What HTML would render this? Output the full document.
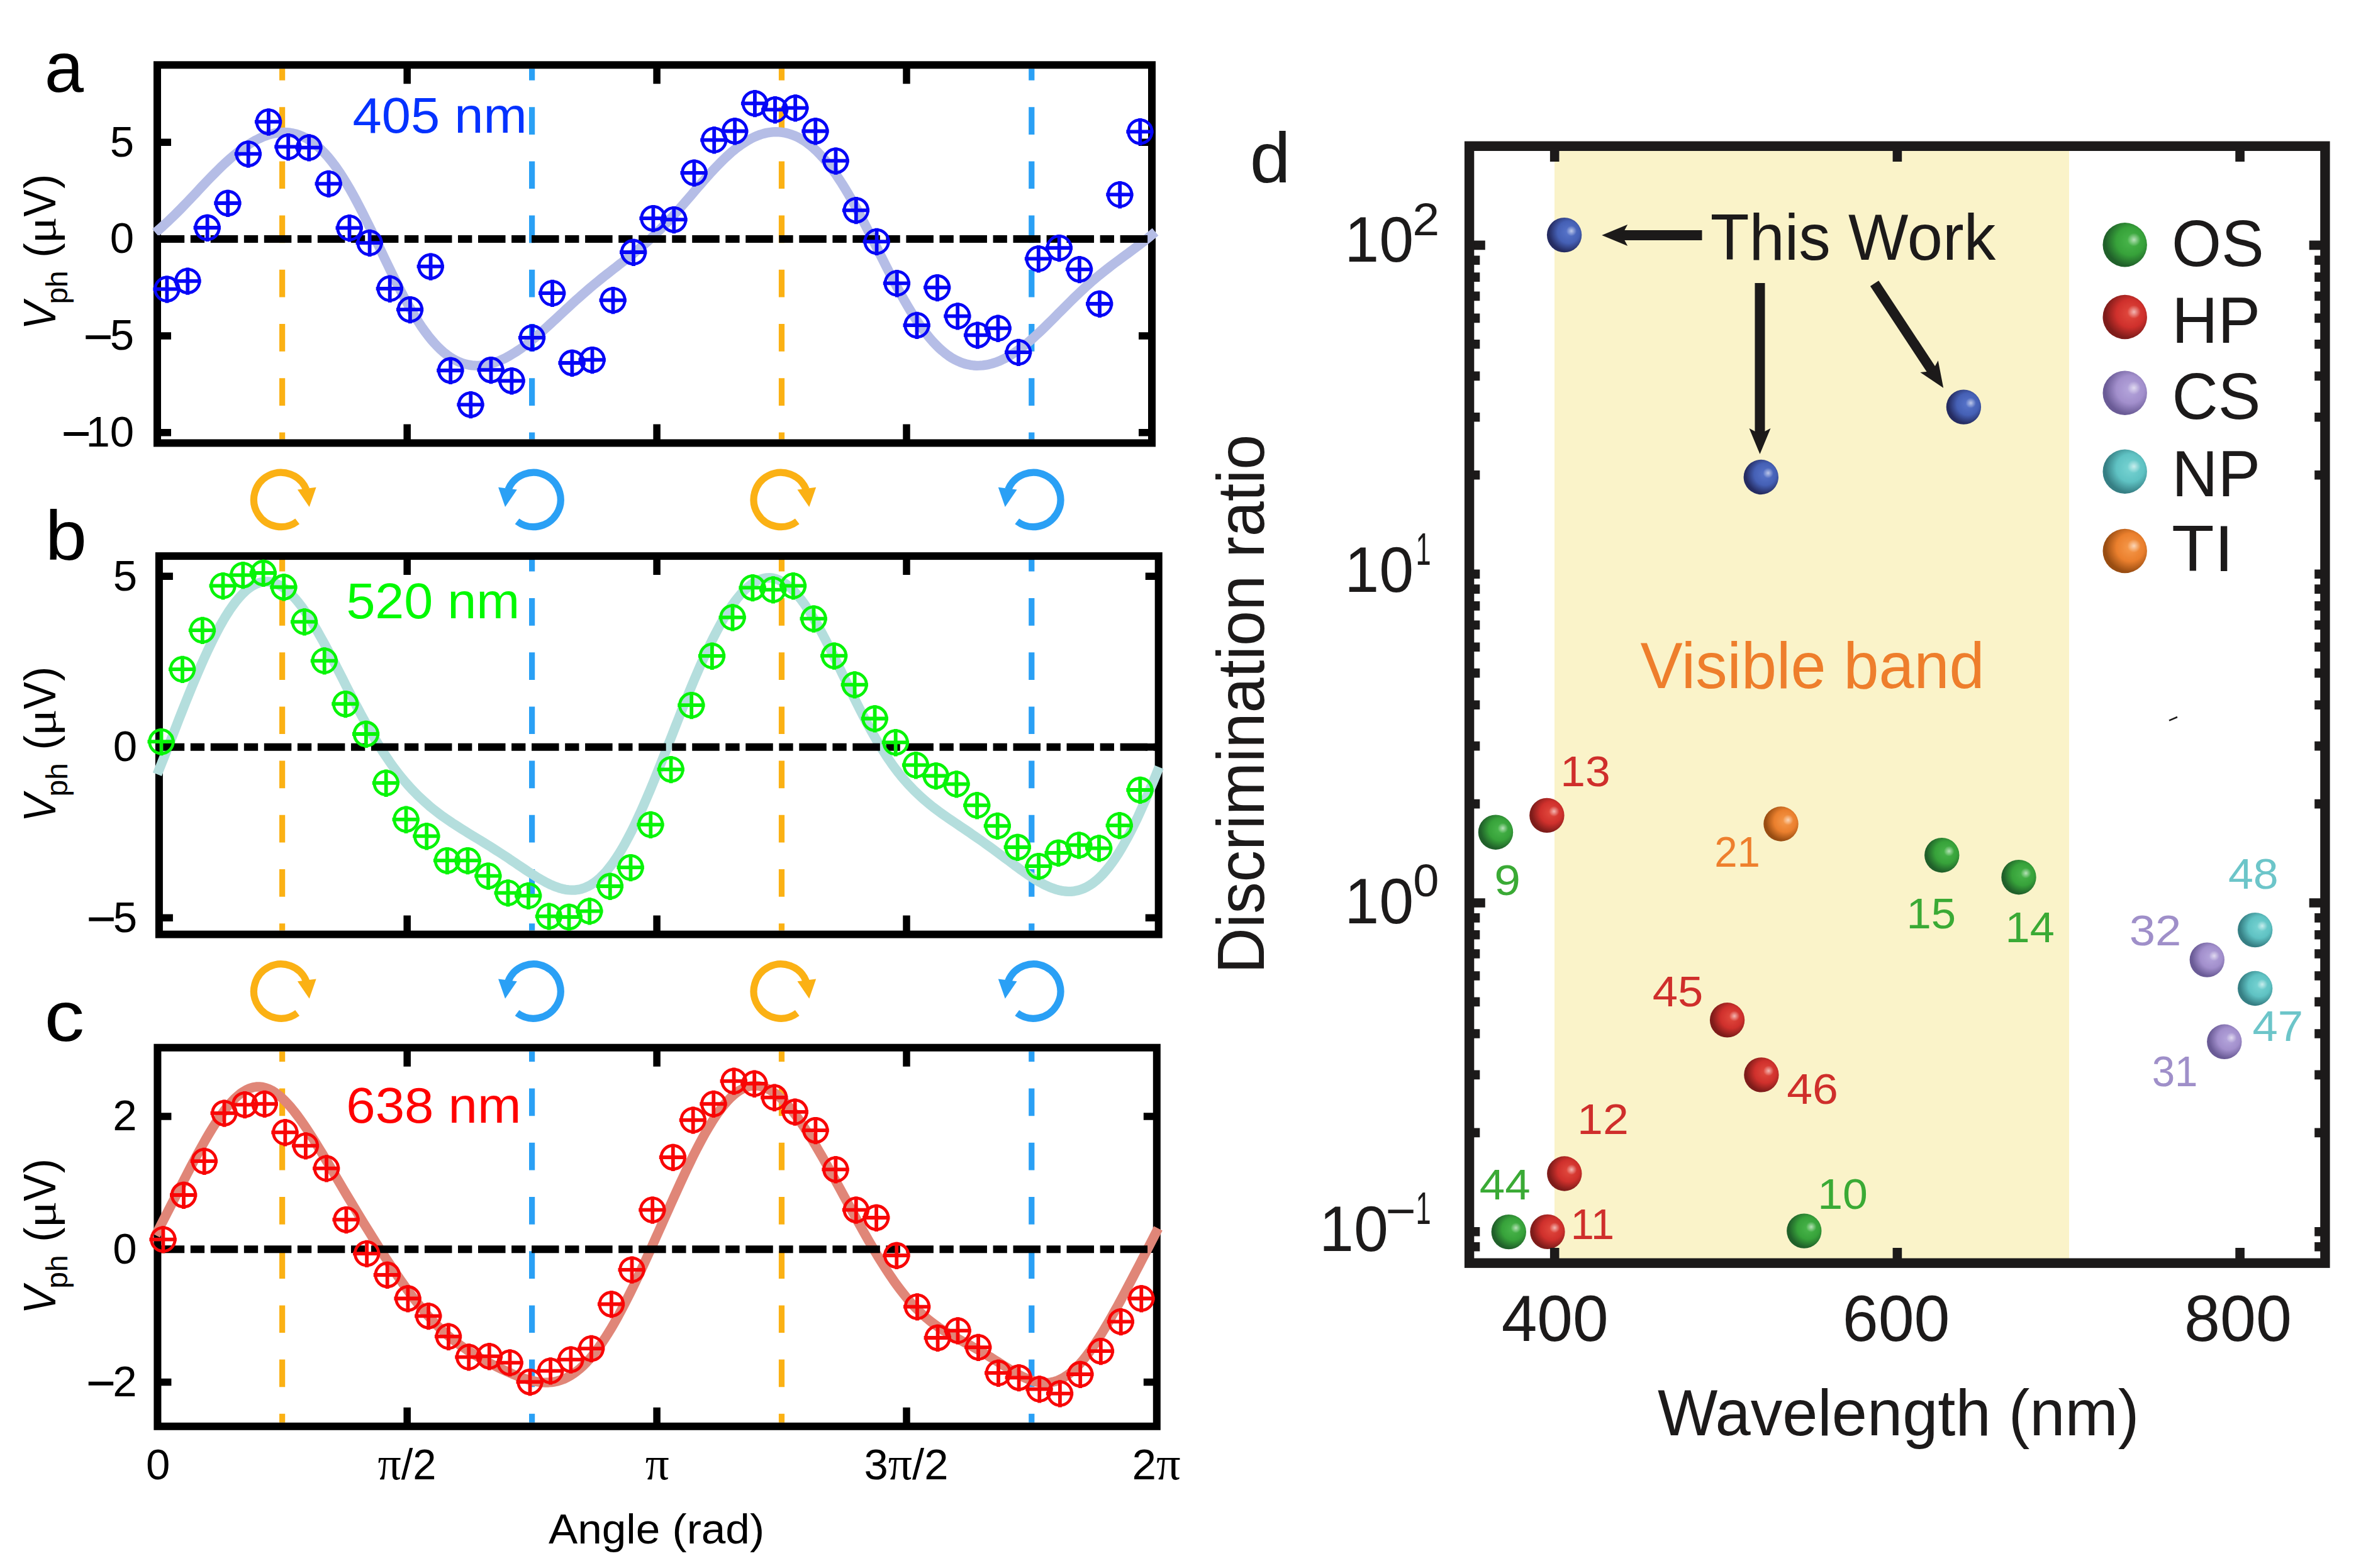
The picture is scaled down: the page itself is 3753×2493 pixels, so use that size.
<!DOCTYPE html>
<html><head><meta charset="utf-8"><title>Figure</title>
<style>html,body{margin:0;padding:0;background:#fff;}svg{display:block;}</style></head>
<body>
<svg width="3753" height="2493" viewBox="0 0 3753 2493" font-family='"Liberation Sans", sans-serif'>
<defs>
<g id="mk"><circle r="18.75" stroke-width="4.8"/><path d="M-22,0H21.3M0,-21.3V22" stroke-width="5.8"/></g>
<g id="rot"><path d="M26.00,34.50A43.2,43.2 0 1 1 40.05,-16.18" fill="none" stroke="currentColor" stroke-width="11.2"/><path d="M26.2,-15.8L55.9,-19.6L45,11.7Z" fill="currentColor"/></g>
<radialGradient id="gG" cx="0.62" cy="0.42" r="0.70"><stop offset="0" stop-color="#49b64b"/><stop offset="0.45" stop-color="#37a23a"/><stop offset="0.8" stop-color="#20602a" stop-opacity="1"/><stop offset="1" stop-color="#20602a"/></radialGradient>
<radialGradient id="gR" cx="0.62" cy="0.42" r="0.70"><stop offset="0" stop-color="#e24a3e"/><stop offset="0.45" stop-color="#cf302c"/><stop offset="0.8" stop-color="#7e1c1a" stop-opacity="1"/><stop offset="1" stop-color="#7e1c1a"/></radialGradient>
<radialGradient id="gP" cx="0.62" cy="0.42" r="0.70"><stop offset="0" stop-color="#b5a6dc"/><stop offset="0.45" stop-color="#a28fcc"/><stop offset="0.8" stop-color="#6a5b96" stop-opacity="1"/><stop offset="1" stop-color="#6a5b96"/></radialGradient>
<radialGradient id="gT" cx="0.62" cy="0.42" r="0.70"><stop offset="0" stop-color="#78d4d3"/><stop offset="0.45" stop-color="#5fc2c3"/><stop offset="0.8" stop-color="#367f84" stop-opacity="1"/><stop offset="1" stop-color="#367f84"/></radialGradient>
<radialGradient id="gO" cx="0.62" cy="0.42" r="0.70"><stop offset="0" stop-color="#f69a4c"/><stop offset="0.45" stop-color="#ea7f2d"/><stop offset="0.8" stop-color="#994d12" stop-opacity="1"/><stop offset="1" stop-color="#994d12"/></radialGradient>
<radialGradient id="gB" cx="0.62" cy="0.42" r="0.70"><stop offset="0" stop-color="#5875cb"/><stop offset="0.45" stop-color="#4560b5"/><stop offset="0.8" stop-color="#252c62" stop-opacity="1"/><stop offset="1" stop-color="#252c62"/></radialGradient>
<radialGradient id="gH"><stop offset="0" stop-color="#fff" stop-opacity="0.62"/><stop offset="0.4" stop-color="#fff" stop-opacity="0.36"/><stop offset="1" stop-color="#fff" stop-opacity="0"/></radialGradient>
</defs>
<rect width="3753" height="2493" fill="#fff"/>
<g id="panel-a">
<clipPath id="clipa"><rect x="256" y="109.3" width="1569" height="589.1"/></clipPath>
<g clip-path="url(#clipa)">
<line x1="448.6" y1="84" x2="448.6" y2="744.4" stroke="#fbb114" stroke-width="9.2" stroke-dasharray="43.7 42.5"/>
<line x1="845.6" y1="84" x2="845.6" y2="744.4" stroke="#2aa0f5" stroke-width="9.2" stroke-dasharray="43.7 42.5"/>
<line x1="1242.5" y1="84" x2="1242.5" y2="744.4" stroke="#fbb114" stroke-width="9.2" stroke-dasharray="43.7 42.5"/>
<line x1="1639.8" y1="84" x2="1639.8" y2="744.4" stroke="#2aa0f5" stroke-width="9.2" stroke-dasharray="43.7 42.5"/>
</g>
<rect x="250" y="103.3" width="1581" height="601.1" fill="none" stroke="#000" stroke-width="12"/>
<path d="M647.2,103.3v30M647.2,704.4v-30M1044.1,103.3v30M1044.1,704.4v-30M1441,103.3v30M1441,704.4v-30M250,226.3h22M1831,226.3h-21M250,380.1h22M1831,380.1h-21M250,533.9h22M1831,533.9h-21M250,687.7h22M1831,687.7h-21" stroke="#000" stroke-width="11.5" fill="none"/>
<path d="M247,369.9 L252,365.6 L257,361.2 L261.9,356.7 L266.9,352.1 L271.9,347.3 L276.9,342.5 L281.9,337.5 L286.9,332.5 L291.8,327.4 L296.8,322.2 L301.8,316.9 L306.8,311.7 L311.8,306.4 L316.8,301.1 L321.7,295.8 L326.7,290.5 L331.7,285.3 L336.7,280.2 L341.7,275.1 L346.7,270.1 L351.6,265.3 L356.6,260.5 L361.6,256 L366.6,251.5 L371.6,247.2 L376.6,243.2 L381.5,239.3 L386.5,235.6 L391.5,232.1 L396.5,228.8 L401.5,225.8 L406.4,223 L411.4,220.5 L416.4,218.2 L421.4,216.2 L426.4,214.5 L431.4,213.1 L436.3,212 L441.3,211.1 L446.3,210.6 L451.3,210.5 L456.3,210.6 L461.3,211.2 L466.2,212.1 L471.2,213.3 L476.2,215 L481.2,217.1 L486.2,219.5 L491.2,222.4 L496.1,225.8 L501.1,229.6 L506.1,233.8 L511.1,238.5 L516.1,243.6 L521.1,249.2 L526,255.2 L531,261.6 L536,268.5 L541,275.9 L546,283.6 L550.9,291.7 L555.9,300.2 L560.9,309.1 L565.9,318.2 L570.9,327.7 L575.9,337.4 L580.8,347.3 L585.8,357.4 L590.8,367.7 L595.8,378 L600.8,388.5 L605.8,399 L610.7,409.4 L615.7,419.8 L620.7,430.1 L625.7,440.3 L630.7,450.3 L635.7,460 L640.6,469.6 L645.6,478.8 L650.6,487.8 L655.6,496.4 L660.6,504.6 L665.6,512.5 L670.5,520 L675.5,527 L680.5,533.7 L685.5,539.9 L690.5,545.6 L695.4,550.9 L700.4,555.8 L705.4,560.2 L710.4,564.1 L715.4,567.7 L720.4,570.8 L725.3,573.4 L730.3,575.7 L735.3,577.6 L740.3,579 L745.3,580.1 L750.3,580.8 L755.2,581.2 L760.2,581.3 L765.2,581 L770.2,580.4 L775.2,579.5 L780.2,578.3 L785.1,576.8 L790.1,575 L795.1,573 L800.1,570.8 L805.1,568.3 L810.1,565.6 L815,562.6 L820,559.5 L825,556.2 L830,552.7 L835,549 L839.9,545.1 L844.9,541.2 L849.9,537.1 L854.9,532.8 L859.9,528.5 L864.9,524.1 L869.8,519.6 L874.8,515 L879.8,510.4 L884.8,505.8 L889.8,501.2 L894.8,496.5 L899.7,491.9 L904.7,487.3 L909.7,482.7 L914.7,478.1 L919.7,473.7 L924.7,469.2 L929.6,464.9 L934.6,460.6 L939.6,456.3 L944.6,452.2 L949.6,448.1 L954.6,444 L959.5,440 L964.5,436.1 L969.5,432.2 L974.5,428.3 L979.5,424.5 L984.4,420.6 L989.4,416.7 L994.4,412.9 L999.4,408.9 L1004.4,405 L1009.4,400.9 L1014.3,396.8 L1019.3,392.6 L1024.3,388.3 L1029.3,383.9 L1034.3,379.3 L1039.3,374.7 L1044.2,369.9 L1049.2,365 L1054.2,359.9 L1059.2,354.8 L1064.2,349.5 L1069.2,344.1 L1074.1,338.6 L1079.1,333 L1084.1,327.3 L1089.1,321.5 L1094.1,315.8 L1099.1,310 L1104,304.1 L1109,298.3 L1114,292.6 L1119,286.8 L1124,281.2 L1128.9,275.6 L1133.9,270.2 L1138.9,264.9 L1143.9,259.8 L1148.9,254.8 L1153.9,250 L1158.8,245.5 L1163.8,241.1 L1168.8,237 L1173.8,233.2 L1178.8,229.6 L1183.8,226.3 L1188.7,223.2 L1193.7,220.5 L1198.7,218 L1203.7,215.9 L1208.7,214 L1213.7,212.5 L1218.6,211.3 L1223.6,210.5 L1228.6,209.9 L1233.6,209.7 L1238.6,209.9 L1243.6,210.4 L1248.5,211.3 L1253.5,212.5 L1258.5,214.1 L1263.5,216 L1268.5,218.3 L1273.4,221 L1278.4,224.1 L1283.4,227.6 L1288.4,231.5 L1293.4,235.8 L1298.4,240.4 L1303.3,245.5 L1308.3,250.9 L1313.3,256.8 L1318.3,263 L1323.3,269.6 L1328.3,276.6 L1333.2,284 L1338.2,291.6 L1343.2,299.6 L1348.2,308 L1353.2,316.6 L1358.2,325.4 L1363.1,334.5 L1368.1,343.9 L1373.1,353.4 L1378.1,363 L1383.1,372.8 L1388.1,382.6 L1393,392.5 L1398,402.4 L1403,412.3 L1408,422.2 L1413,431.9 L1417.9,441.6 L1422.9,451 L1427.9,460.3 L1432.9,469.4 L1437.9,478.2 L1442.9,486.8 L1447.8,495 L1452.8,503 L1457.8,510.6 L1462.8,517.8 L1467.8,524.7 L1472.8,531.2 L1477.7,537.3 L1482.7,543 L1487.7,548.3 L1492.7,553.2 L1497.7,557.7 L1502.7,561.8 L1507.6,565.5 L1512.6,568.8 L1517.6,571.7 L1522.6,574.1 L1527.6,576.3 L1532.6,578 L1537.5,579.3 L1542.5,580.3 L1547.5,581 L1552.5,581.3 L1557.5,581.2 L1562.4,580.9 L1567.4,580.2 L1572.4,579.2 L1577.4,577.9 L1582.4,576.3 L1587.4,574.4 L1592.3,572.2 L1597.3,569.8 L1602.3,567 L1607.3,564.1 L1612.3,560.9 L1617.3,557.5 L1622.2,553.9 L1627.2,550 L1632.2,546 L1637.2,541.8 L1642.2,537.4 L1647.2,532.9 L1652.1,528.3 L1657.1,523.6 L1662.1,518.7 L1667.1,513.8 L1672.1,508.9 L1677.1,503.9 L1682,498.8 L1687,493.8 L1692,488.8 L1697,483.8 L1702,478.9 L1706.9,474 L1711.9,469.2 L1716.9,464.4 L1721.9,459.8 L1726.9,455.2 L1731.9,450.8 L1736.8,446.4 L1741.8,442.2 L1746.8,438 L1751.8,434 L1756.8,430 L1761.8,426.1 L1766.7,422.3 L1771.7,418.5 L1776.7,414.8 L1781.7,411.1 L1786.7,407.4 L1791.7,403.8 L1796.6,400.1 L1801.6,396.4 L1806.6,392.6 L1811.6,388.8 L1816.6,385 L1821.6,381 L1826.5,377 L1831.5,372.9 L1836.5,368.7" fill="none" stroke="#b5bde6" stroke-width="15.3" stroke-linejoin="round"/>
<line x1="249.7" y1="380.1" x2="1825" y2="380.1" stroke="#000" stroke-width="12" stroke-dasharray="43.5 9.6 22.3 9.65"/>
<g stroke="#0606f6" fill="none"><use href="#mk" x="265.4" y="459.7"/><use href="#mk" x="298.3" y="446.8"/><use href="#mk" x="329.6" y="362"/><use href="#mk" x="362.2" y="323"/><use href="#mk" x="394.7" y="244.7"/><use href="#mk" x="426.9" y="193.7"/><use href="#mk" x="458.2" y="233.4"/><use href="#mk" x="491.2" y="234.6"/><use href="#mk" x="522.5" y="292.1"/><use href="#mk" x="555.5" y="362.4"/><use href="#mk" x="587.6" y="386.1"/><use href="#mk" x="619.7" y="458.9"/><use href="#mk" x="651.9" y="492.2"/><use href="#mk" x="684.6" y="423.7"/><use href="#mk" x="716.2" y="589"/><use href="#mk" x="748.3" y="643.3"/><use href="#mk" x="780.5" y="588.2"/><use href="#mk" x="813.4" y="605.5"/><use href="#mk" x="845.9" y="536.8"/><use href="#mk" x="878" y="466.1"/><use href="#mk" x="909.4" y="577"/><use href="#mk" x="941.5" y="572.2"/><use href="#mk" x="974.5" y="477.3"/><use href="#mk" x="1007" y="401"/><use href="#mk" x="1038.4" y="347.2"/><use href="#mk" x="1071.3" y="349.2"/><use href="#mk" x="1103.4" y="274.8"/><use href="#mk" x="1135.2" y="222.6"/><use href="#mk" x="1168.1" y="208.5"/><use href="#mk" x="1199.9" y="164.3"/><use href="#mk" x="1232" y="174.4"/><use href="#mk" x="1264.2" y="171.6"/><use href="#mk" x="1296.3" y="208.5"/><use href="#mk" x="1328.5" y="255.7"/><use href="#mk" x="1360.8" y="334.3"/><use href="#mk" x="1393.6" y="384.1"/><use href="#mk" x="1425.8" y="450.4"/><use href="#mk" x="1457.5" y="517.1"/><use href="#mk" x="1490" y="457.2"/><use href="#mk" x="1522.2" y="502.6"/><use href="#mk" x="1553.9" y="532.8"/><use href="#mk" x="1586.5" y="521.9"/><use href="#mk" x="1619" y="560.1"/><use href="#mk" x="1650.8" y="411.4"/><use href="#mk" x="1683.7" y="394.2"/><use href="#mk" x="1715.9" y="428.3"/><use href="#mk" x="1748" y="483"/><use href="#mk" x="1780.2" y="309.4"/><use href="#mk" x="1812.3" y="209.3"/></g>
<text transform="translate(560.62,210.7) scale(1.0381,1)" font-size="80" fill="#0432ff" >405 nm</text>
<text x="213.2" y="248.6" font-size="69" text-anchor="end">5</text>
<text x="213.2" y="402.4" font-size="69" text-anchor="end">0</text>
<text x="213.2" y="556.2" font-size="69" text-anchor="end">5</text>
<rect x="136.3" y="533.2" width="39.5" height="6"/>
<text x="213.2" y="710" font-size="69" text-anchor="end">10</text>
<rect x="101.4" y="687" width="39.5" height="6"/>
<text transform="translate(87.5,501.8) rotate(-90) scale(0.93,1)" font-size="72" text-anchor="middle" font-style="italic">V</text>
<text transform="translate(107.1,456.9) rotate(-90) scale(1,1)" font-size="48" text-anchor="middle" >ph</text>
<text transform="translate(87.5,398) rotate(-90) scale(1,1)" font-size="70" text-anchor="middle" >(</text>
<text transform="translate(87.5,365.8) rotate(-90) scale(1.15,1)" font-size="70" text-anchor="middle" font-family='"Liberation Serif", serif'>μ</text>
<text transform="translate(87.5,323) rotate(-90) scale(0.9,1)" font-size="72" text-anchor="middle" >V</text>
<text transform="translate(87.5,288.4) rotate(-90) scale(1,1)" font-size="70" text-anchor="middle" >)</text>
</g>
<g id="panel-b">
<clipPath id="clipb"><rect x="258.9" y="890.1" width="1576.8" height="589.5"/></clipPath>
<g clip-path="url(#clipb)">
<line x1="448.6" y1="864.8" x2="448.6" y2="1525.6" stroke="#fbb114" stroke-width="9.2" stroke-dasharray="43.7 42.5"/>
<line x1="845.6" y1="864.8" x2="845.6" y2="1525.6" stroke="#2aa0f5" stroke-width="9.2" stroke-dasharray="43.7 42.5"/>
<line x1="1242.5" y1="864.8" x2="1242.5" y2="1525.6" stroke="#fbb114" stroke-width="9.2" stroke-dasharray="43.7 42.5"/>
<line x1="1639.8" y1="864.8" x2="1639.8" y2="1525.6" stroke="#2aa0f5" stroke-width="9.2" stroke-dasharray="43.7 42.5"/>
</g>
<rect x="252.9" y="884.1" width="1588.8" height="601.5" fill="none" stroke="#000" stroke-width="12"/>
<path d="M647.2,884.1v30M647.2,1485.6v-30M1044.1,884.1v30M1044.1,1485.6v-30M1441,884.1v30M1441,1485.6v-30M252.9,916.3h22M1841.7,916.3h-21M252.9,1187.8h22M1841.7,1187.8h-21M252.9,1459.3h22M1841.7,1459.3h-21" stroke="#000" stroke-width="11.5" fill="none"/>
<path d="M249.9,1231.1 L254.9,1218.7 L259.9,1206.2 L264.9,1193.5 L269.9,1180.8 L274.9,1168.1 L279.9,1155.3 L284.8,1142.6 L289.8,1129.9 L294.8,1117.3 L299.8,1104.9 L304.8,1092.7 L309.8,1080.6 L314.8,1068.8 L319.8,1057.2 L324.8,1046 L329.8,1035.1 L334.8,1024.6 L339.8,1014.4 L344.8,1004.7 L349.7,995.4 L354.7,986.6 L359.7,978.3 L364.7,970.5 L369.7,963.3 L374.7,956.6 L379.7,950.6 L384.7,945.1 L389.7,940.2 L394.7,936 L399.7,932.5 L404.7,929.6 L409.7,927.4 L414.7,925.8 L419.6,924.9 L424.6,924.7 L429.6,925.2 L434.6,926.3 L439.6,928.1 L444.6,930.6 L449.6,933.7 L454.6,937.4 L459.6,941.7 L464.6,946.7 L469.6,952.1 L474.6,958.1 L479.6,964.6 L484.5,971.6 L489.5,979 L494.5,986.8 L499.5,995 L504.5,1003.5 L509.5,1012.4 L514.5,1021.4 L519.5,1030.7 L524.5,1040.2 L529.5,1049.8 L534.5,1059.5 L539.5,1069.3 L544.5,1079.1 L549.4,1088.9 L554.4,1098.7 L559.4,1108.4 L564.4,1118 L569.4,1127.4 L574.4,1136.8 L579.4,1145.9 L584.4,1154.9 L589.4,1163.6 L594.4,1172.2 L599.4,1180.5 L604.4,1188.5 L609.4,1196.3 L614.4,1203.8 L619.3,1211.1 L624.3,1218.1 L629.3,1224.8 L634.3,1231.3 L639.3,1237.5 L644.3,1243.4 L649.3,1249.1 L654.3,1254.6 L659.3,1259.8 L664.3,1264.8 L669.3,1269.6 L674.3,1274.2 L679.3,1278.6 L684.2,1282.9 L689.2,1286.9 L694.2,1290.8 L699.2,1294.6 L704.2,1298.3 L709.2,1301.8 L714.2,1305.2 L719.2,1308.6 L724.2,1311.8 L729.2,1315 L734.2,1318.2 L739.2,1321.3 L744.2,1324.4 L749.1,1327.4 L754.1,1330.5 L759.1,1333.5 L764.1,1336.6 L769.1,1339.6 L774.1,1342.7 L779.1,1345.8 L784.1,1349 L789.1,1352.2 L794.1,1355.4 L799.1,1358.6 L804.1,1361.9 L809.1,1365.2 L814,1368.6 L819,1371.9 L824,1375.3 L829,1378.7 L834,1382 L839,1385.4 L844,1388.6 L849,1391.8 L854,1394.9 L859,1397.9 L864,1400.7 L869,1403.4 L874,1405.9 L879,1408.1 L883.9,1410.1 L888.9,1411.8 L893.9,1413.2 L898.9,1414.3 L903.9,1414.9 L908.9,1415.2 L913.9,1415.1 L918.9,1414.4 L923.9,1413.4 L928.9,1411.8 L933.9,1409.6 L938.9,1407 L943.9,1403.8 L948.8,1400 L953.8,1395.7 L958.8,1390.8 L963.8,1385.3 L968.8,1379.2 L973.8,1372.6 L978.8,1365.4 L983.8,1357.7 L988.8,1349.5 L993.8,1340.7 L998.8,1331.4 L1003.8,1321.7 L1008.8,1311.6 L1013.7,1301 L1018.7,1290.1 L1023.7,1278.8 L1028.7,1267.2 L1033.7,1255.4 L1038.7,1243.3 L1043.7,1231 L1048.7,1218.5 L1053.7,1205.9 L1058.7,1193.2 L1063.7,1180.5 L1068.7,1167.7 L1073.7,1154.9 L1078.7,1142.3 L1083.6,1129.6 L1088.6,1117.1 L1093.6,1104.8 L1098.6,1092.6 L1103.6,1080.6 L1108.6,1068.9 L1113.6,1057.4 L1118.6,1046.3 L1123.6,1035.4 L1128.6,1024.9 L1133.6,1014.7 L1138.6,1005 L1143.6,995.6 L1148.5,986.7 L1153.5,978.2 L1158.5,970.3 L1163.5,962.8 L1168.5,955.8 L1173.5,949.4 L1178.5,943.6 L1183.5,938.3 L1188.5,933.6 L1193.5,929.6 L1198.5,926.1 L1203.5,923.3 L1208.5,921.2 L1213.4,919.7 L1218.4,918.9 L1223.4,918.7 L1228.4,919.2 L1233.4,920.4 L1238.4,922.3 L1243.4,924.8 L1248.4,928 L1253.4,931.8 L1258.4,936.3 L1263.4,941.3 L1268.4,947 L1273.4,953.2 L1278.4,960 L1283.3,967.2 L1288.3,974.9 L1293.3,983.1 L1298.3,991.7 L1303.3,1000.6 L1308.3,1009.9 L1313.3,1019.4 L1318.3,1029.2 L1323.3,1039.1 L1328.3,1049.3 L1333.3,1059.5 L1338.3,1069.8 L1343.3,1080.1 L1348.2,1090.3 L1353.2,1100.6 L1358.2,1110.7 L1363.2,1120.7 L1368.2,1130.5 L1373.2,1140.2 L1378.2,1149.6 L1383.2,1158.8 L1388.2,1167.8 L1393.2,1176.4 L1398.2,1184.8 L1403.2,1192.8 L1408.2,1200.6 L1413.1,1208 L1418.1,1215.2 L1423.1,1222 L1428.1,1228.5 L1433.1,1234.7 L1438.1,1240.6 L1443.1,1246.3 L1448.1,1251.6 L1453.1,1256.8 L1458.1,1261.6 L1463.1,1266.3 L1468.1,1270.7 L1473.1,1275 L1478,1279.1 L1483,1283.1 L1488,1286.9 L1493,1290.6 L1498,1294.2 L1503,1297.7 L1508,1301.2 L1513,1304.6 L1518,1308 L1523,1311.4 L1528,1314.8 L1533,1318.2 L1538,1321.5 L1543,1324.9 L1547.9,1328.4 L1552.9,1331.8 L1557.9,1335.3 L1562.9,1338.9 L1567.9,1342.4 L1572.9,1346 L1577.9,1349.7 L1582.9,1353.4 L1587.9,1357.1 L1592.9,1360.8 L1597.9,1364.5 L1602.9,1368.2 L1607.9,1372 L1612.8,1375.7 L1617.8,1379.3 L1622.8,1383 L1627.8,1386.5 L1632.8,1390 L1637.8,1393.3 L1642.8,1396.6 L1647.8,1399.6 L1652.8,1402.6 L1657.8,1405.3 L1662.8,1407.8 L1667.8,1410.1 L1672.8,1412.1 L1677.7,1413.8 L1682.7,1415.2 L1687.7,1416.3 L1692.7,1417 L1697.7,1417.3 L1702.7,1417.3 L1707.7,1416.8 L1712.7,1415.8 L1717.7,1414.4 L1722.7,1412.5 L1727.7,1410.1 L1732.7,1407.2 L1737.7,1403.8 L1742.7,1399.8 L1747.6,1395.3 L1752.6,1390.3 L1757.6,1384.7 L1762.6,1378.6 L1767.6,1372 L1772.6,1364.8 L1777.6,1357.2 L1782.6,1349 L1787.6,1340.3 L1792.6,1331.2 L1797.6,1321.6 L1802.6,1311.6 L1807.6,1301.3 L1812.5,1290.5 L1817.5,1279.4 L1822.5,1267.9 L1827.5,1256.2 L1832.5,1244.3 L1837.5,1232.1 L1842.5,1219.7" fill="none" stroke="#b4dedd" stroke-width="15.3" stroke-linejoin="round"/>
<line x1="249.7" y1="1187.8" x2="1835.7" y2="1187.8" stroke="#000" stroke-width="12" stroke-dasharray="43.5 9.6 22.3 9.65"/>
<g stroke="#08f408" fill="none"><use href="#mk" x="256.5" y="1179.2"/><use href="#mk" x="290" y="1064.1"/><use href="#mk" x="321.8" y="1002.1"/><use href="#mk" x="354.5" y="931.4"/><use href="#mk" x="386.3" y="914.3"/><use href="#mk" x="418.6" y="911"/><use href="#mk" x="451.2" y="933.5"/><use href="#mk" x="483.9" y="988.6"/><use href="#mk" x="515.7" y="1050.6"/><use href="#mk" x="549.2" y="1119.2"/><use href="#mk" x="581.9" y="1167"/><use href="#mk" x="613.7" y="1244.9"/><use href="#mk" x="645.5" y="1302.9"/><use href="#mk" x="678.2" y="1329.4"/><use href="#mk" x="710.9" y="1368.2"/><use href="#mk" x="743.5" y="1368.2"/><use href="#mk" x="776.2" y="1392.7"/><use href="#mk" x="807.5" y="1419.6"/><use href="#mk" x="840" y="1424.1"/><use href="#mk" x="872.7" y="1456.8"/><use href="#mk" x="904.5" y="1458"/><use href="#mk" x="937.2" y="1448.6"/><use href="#mk" x="969.8" y="1409"/><use href="#mk" x="1002.5" y="1379.2"/><use href="#mk" x="1034.3" y="1311.1"/><use href="#mk" x="1066.6" y="1223.3"/><use href="#mk" x="1099.2" y="1121.2"/><use href="#mk" x="1131.9" y="1042.9"/><use href="#mk" x="1164.5" y="981.6"/><use href="#mk" x="1196.4" y="934.3"/><use href="#mk" x="1229" y="937.6"/><use href="#mk" x="1260.9" y="931.4"/><use href="#mk" x="1293.5" y="983.7"/><use href="#mk" x="1326" y="1042.7"/><use href="#mk" x="1358.6" y="1088.6"/><use href="#mk" x="1390.6" y="1142.5"/><use href="#mk" x="1423.7" y="1180.4"/><use href="#mk" x="1455.9" y="1216.4"/><use href="#mk" x="1487.8" y="1233.5"/><use href="#mk" x="1520.4" y="1246.6"/><use href="#mk" x="1553.1" y="1280.4"/><use href="#mk" x="1585.7" y="1313.1"/><use href="#mk" x="1617.6" y="1347"/><use href="#mk" x="1651.1" y="1377.2"/><use href="#mk" x="1682.5" y="1356"/><use href="#mk" x="1715.1" y="1343.7"/><use href="#mk" x="1747" y="1348.6"/><use href="#mk" x="1779.6" y="1312.3"/><use href="#mk" x="1812.3" y="1256"/></g>
<text transform="translate(550.39,982.7) scale(1.0337,1)" font-size="80" fill="#00f900" >520 nm</text>
<text x="218.2" y="938.6" font-size="69" text-anchor="end">5</text>
<text x="218.2" y="1210.1" font-size="69" text-anchor="end">0</text>
<text x="218.2" y="1481.6" font-size="69" text-anchor="end">5</text>
<rect x="141.3" y="1458.6" width="39.5" height="6"/>
<text transform="translate(87.5,1284.7) rotate(-90) scale(0.93,1)" font-size="72" text-anchor="middle" font-style="italic">V</text>
<text transform="translate(107.1,1239.8) rotate(-90) scale(1,1)" font-size="48" text-anchor="middle" >ph</text>
<text transform="translate(87.5,1180.9) rotate(-90) scale(1,1)" font-size="70" text-anchor="middle" >(</text>
<text transform="translate(87.5,1148.7) rotate(-90) scale(1.15,1)" font-size="70" text-anchor="middle" font-family='"Liberation Serif", serif'>μ</text>
<text transform="translate(87.5,1105.9) rotate(-90) scale(0.9,1)" font-size="72" text-anchor="middle" >V</text>
<text transform="translate(87.5,1071.3) rotate(-90) scale(1,1)" font-size="70" text-anchor="middle" >)</text>
</g>
<g id="panel-c">
<clipPath id="clipc"><rect x="256.4" y="1671.7" width="1576.4" height="590.1"/></clipPath>
<g clip-path="url(#clipc)">
<line x1="448.6" y1="1644.4" x2="448.6" y2="2307.8" stroke="#fbb114" stroke-width="9.2" stroke-dasharray="43.7 42.5"/>
<line x1="845.6" y1="1644.4" x2="845.6" y2="2307.8" stroke="#2aa0f5" stroke-width="9.2" stroke-dasharray="43.7 42.5"/>
<line x1="1242.5" y1="1644.4" x2="1242.5" y2="2307.8" stroke="#fbb114" stroke-width="9.2" stroke-dasharray="43.7 42.5"/>
<line x1="1639.8" y1="1644.4" x2="1639.8" y2="2307.8" stroke="#2aa0f5" stroke-width="9.2" stroke-dasharray="43.7 42.5"/>
</g>
<rect x="250.4" y="1665.7" width="1588.4" height="602.1" fill="none" stroke="#000" stroke-width="12"/>
<path d="M647.2,1665.7v30M647.2,2267.8v-30M1044.1,1665.7v30M1044.1,2267.8v-30M1441,1665.7v30M1441,2267.8v-30M250.4,1775h22M1838.8,1775h-21M250.4,1986.2h22M1838.8,1986.2h-21M250.4,2197.4h22M1838.8,2197.4h-21" stroke="#000" stroke-width="11.5" fill="none"/>
<path d="M247.4,1964 L252.4,1954.3 L257.4,1944.5 L262.4,1934.7 L267.4,1925 L272.4,1915.2 L277.4,1905.4 L282.4,1895.6 L287.4,1885.9 L292.4,1876.2 L297.4,1866.5 L302.4,1856.9 L307.3,1847.5 L312.3,1838.1 L317.3,1828.9 L322.3,1819.9 L327.3,1811 L332.3,1802.5 L337.3,1794.2 L342.3,1786.3 L347.3,1778.7 L352.3,1771.5 L357.3,1764.7 L362.3,1758.4 L367.3,1752.7 L372.3,1747.4 L377.3,1742.8 L382.3,1738.7 L387.3,1735.3 L392.3,1732.5 L397.3,1730.3 L402.3,1728.8 L407.3,1728 L412.3,1727.8 L417.3,1728.4 L422.2,1729.6 L427.2,1731.4 L432.2,1733.8 L437.2,1736.9 L442.2,1740.6 L447.2,1744.8 L452.2,1749.5 L457.2,1754.7 L462.2,1760.4 L467.2,1766.5 L472.2,1773 L477.2,1779.8 L482.2,1786.9 L487.2,1794.3 L492.2,1801.9 L497.2,1809.8 L502.2,1817.8 L507.2,1825.9 L512.2,1834.1 L517.2,1842.5 L522.2,1850.8 L527.2,1859.3 L532.1,1867.7 L537.1,1876.2 L542.1,1884.6 L547.1,1893.1 L552.1,1901.5 L557.1,1909.8 L562.1,1918.2 L567.1,1926.5 L572.1,1934.7 L577.1,1942.9 L582.1,1951 L587.1,1959.1 L592.1,1967.1 L597.1,1975.1 L602.1,1983 L607.1,1990.8 L612.1,1998.6 L617.1,2006.2 L622.1,2013.8 L627.1,2021.2 L632.1,2028.6 L637.1,2035.8 L642.1,2042.9 L647,2049.9 L652,2056.6 L657,2063.3 L662,2069.7 L667,2076 L672,2082.1 L677,2088 L682,2093.7 L687,2099.2 L692,2104.4 L697,2109.5 L702,2114.3 L707,2118.9 L712,2123.4 L717,2127.6 L722,2131.6 L727,2135.5 L732,2139.1 L737,2142.6 L742,2146 L747,2149.2 L752,2152.4 L757,2155.4 L761.9,2158.3 L766.9,2161.1 L771.9,2163.8 L776.9,2166.5 L781.9,2169.1 L786.9,2171.6 L791.9,2174.1 L796.9,2176.5 L801.9,2178.8 L806.9,2181.1 L811.9,2183.3 L816.9,2185.5 L821.9,2187.5 L826.9,2189.4 L831.9,2191.2 L836.9,2192.8 L841.9,2194.2 L846.9,2195.5 L851.9,2196.5 L856.9,2197.3 L861.9,2197.9 L866.9,2198.1 L871.9,2198 L876.8,2197.6 L881.8,2196.9 L886.8,2195.7 L891.8,2194.2 L896.8,2192.3 L901.8,2189.9 L906.8,2187.1 L911.8,2183.9 L916.8,2180.2 L921.8,2176.1 L926.8,2171.5 L931.8,2166.5 L936.8,2161.1 L941.8,2155.2 L946.8,2148.9 L951.8,2142.1 L956.8,2135 L961.8,2127.5 L966.8,2119.6 L971.8,2111.4 L976.8,2102.8 L981.8,2093.9 L986.8,2084.7 L991.7,2075.2 L996.7,2065.5 L1001.7,2055.5 L1006.7,2045.4 L1011.7,2035 L1016.7,2024.4 L1021.7,2013.7 L1026.7,2002.9 L1031.7,1991.9 L1036.7,1980.8 L1041.7,1969.7 L1046.7,1958.5 L1051.7,1947.3 L1056.7,1936 L1061.7,1924.8 L1066.7,1913.6 L1071.7,1902.5 L1076.7,1891.5 L1081.7,1880.5 L1086.7,1869.8 L1091.7,1859.1 L1096.7,1848.7 L1101.6,1838.5 L1106.6,1828.6 L1111.6,1818.9 L1116.6,1809.6 L1121.6,1800.6 L1126.6,1792.1 L1131.6,1783.9 L1136.6,1776.1 L1141.6,1768.9 L1146.6,1762.1 L1151.6,1755.9 L1156.6,1750.2 L1161.6,1745 L1166.6,1740.5 L1171.6,1736.5 L1176.6,1733.2 L1181.6,1730.5 L1186.6,1728.5 L1191.6,1727 L1196.6,1726.2 L1201.6,1726.1 L1206.6,1726.6 L1211.6,1727.7 L1216.5,1729.4 L1221.5,1731.7 L1226.5,1734.5 L1231.5,1737.9 L1236.5,1741.9 L1241.5,1746.4 L1246.5,1751.3 L1251.5,1756.7 L1256.5,1762.5 L1261.5,1768.8 L1266.5,1775.4 L1271.5,1782.3 L1276.5,1789.6 L1281.5,1797.2 L1286.5,1805 L1291.5,1813 L1296.5,1821.3 L1301.5,1829.8 L1306.5,1838.4 L1311.5,1847.2 L1316.5,1856 L1321.5,1865 L1326.5,1874.1 L1331.4,1883.2 L1336.4,1892.3 L1341.4,1901.5 L1346.4,1910.7 L1351.4,1919.9 L1356.4,1929 L1361.4,1938.1 L1366.4,1947.1 L1371.4,1956.1 L1376.4,1964.9 L1381.4,1973.6 L1386.4,1982.2 L1391.4,1990.7 L1396.4,1999 L1401.4,2007.1 L1406.4,2014.9 L1411.4,2022.6 L1416.4,2030.1 L1421.4,2037.3 L1426.4,2044.2 L1431.4,2050.9 L1436.4,2057.3 L1441.4,2063.5 L1446.3,2069.3 L1451.3,2074.9 L1456.3,2080.2 L1461.3,2085.2 L1466.3,2089.9 L1471.3,2094.3 L1476.3,2098.5 L1481.3,2102.5 L1486.3,2106.2 L1491.3,2109.8 L1496.3,2113.1 L1501.3,2116.3 L1506.3,2119.3 L1511.3,2122.2 L1516.3,2125.1 L1521.3,2127.8 L1526.3,2130.5 L1531.3,2133.2 L1536.3,2135.9 L1541.3,2138.6 L1546.3,2141.4 L1551.3,2144.1 L1556.3,2147 L1561.2,2149.9 L1566.2,2152.8 L1571.2,2155.9 L1576.2,2158.9 L1581.2,2162.1 L1586.2,2165.3 L1591.2,2168.4 L1596.2,2171.6 L1601.2,2174.8 L1606.2,2177.9 L1611.2,2180.9 L1616.2,2183.8 L1621.2,2186.6 L1626.2,2189.1 L1631.2,2191.5 L1636.2,2193.6 L1641.2,2195.3 L1646.2,2196.8 L1651.2,2197.8 L1656.2,2198.5 L1661.2,2198.7 L1666.2,2198.5 L1671.1,2197.8 L1676.1,2196.6 L1681.1,2195 L1686.1,2192.7 L1691.1,2190 L1696.1,2186.8 L1701.1,2183 L1706.1,2178.7 L1711.1,2173.9 L1716.1,2168.7 L1721.1,2163 L1726.1,2156.8 L1731.1,2150.2 L1736.1,2143.3 L1741.1,2135.9 L1746.1,2128.3 L1751.1,2120.3 L1756.1,2112.1 L1761.1,2103.6 L1766.1,2095 L1771.1,2086.1 L1776.1,2077.1 L1781.1,2068 L1786,2058.7 L1791,2049.3 L1796,2039.9 L1801,2030.4 L1806,2020.8 L1811,2011.3 L1816,2001.6 L1821,1992 L1826,1982.3 L1831,1972.6 L1836,1962.8 L1841,1953.1" fill="none" stroke="#e08678" stroke-width="15.3" stroke-linejoin="round"/>
<line x1="249.7" y1="1986.2" x2="1832.8" y2="1986.2" stroke="#000" stroke-width="12" stroke-dasharray="43.5 9.6 22.3 9.65"/>
<g stroke="#f80606" fill="none"><use href="#mk" x="259.4" y="1970.6"/><use href="#mk" x="292" y="1900"/><use href="#mk" x="324.7" y="1846.1"/><use href="#mk" x="356.5" y="1769.8"/><use href="#mk" x="389.2" y="1756.3"/><use href="#mk" x="420.6" y="1755.1"/><use href="#mk" x="453.3" y="1800.4"/><use href="#mk" x="485.9" y="1821.6"/><use href="#mk" x="519" y="1857.6"/><use href="#mk" x="550.4" y="1939.2"/><use href="#mk" x="583.1" y="1993.1"/><use href="#mk" x="615.7" y="2027"/><use href="#mk" x="648.4" y="2064.5"/><use href="#mk" x="681.1" y="2092.3"/><use href="#mk" x="712.9" y="2124.9"/><use href="#mk" x="745.2" y="2157.6"/><use href="#mk" x="777.8" y="2156.4"/><use href="#mk" x="810.5" y="2166.6"/><use href="#mk" x="842.5" y="2197.2"/><use href="#mk" x="875.1" y="2179.6"/><use href="#mk" x="907.4" y="2161.7"/><use href="#mk" x="940" y="2144.1"/><use href="#mk" x="971.9" y="2073.5"/><use href="#mk" x="1004.5" y="2018.8"/><use href="#mk" x="1037.2" y="1923.7"/><use href="#mk" x="1069.8" y="1840"/><use href="#mk" x="1101.7" y="1780.8"/><use href="#mk" x="1134.3" y="1755.1"/><use href="#mk" x="1166.6" y="1718.8"/><use href="#mk" x="1199.2" y="1722.9"/><use href="#mk" x="1231.1" y="1744.9"/><use href="#mk" x="1263.7" y="1767.8"/><use href="#mk" x="1296.4" y="1797.2"/><use href="#mk" x="1328.4" y="1859.4"/><use href="#mk" x="1360.8" y="1923.7"/><use href="#mk" x="1393.1" y="1936"/><use href="#mk" x="1425.3" y="1996"/><use href="#mk" x="1458" y="2077.6"/><use href="#mk" x="1490.6" y="2127"/><use href="#mk" x="1522.5" y="2115.6"/><use href="#mk" x="1555.1" y="2142.1"/><use href="#mk" x="1587" y="2182.9"/><use href="#mk" x="1619.6" y="2190.3"/><use href="#mk" x="1652.3" y="2208.6"/><use href="#mk" x="1684.9" y="2215.6"/><use href="#mk" x="1717.2" y="2185"/><use href="#mk" x="1749.8" y="2148.2"/><use href="#mk" x="1781.7" y="2101.3"/><use href="#mk" x="1814.3" y="2064.5"/></g>
<text transform="translate(550.33,1785) scale(1.0419,1)" font-size="80" fill="#ff0000" >638 nm</text>
<text x="217.6" y="1797.3" font-size="69" text-anchor="end">2</text>
<text x="217.6" y="2008.5" font-size="69" text-anchor="end">0</text>
<text x="217.6" y="2219.7" font-size="69" text-anchor="end">2</text>
<rect x="140.7" y="2196.7" width="39.5" height="6"/>
<text transform="translate(87.5,2066.9) rotate(-90) scale(0.93,1)" font-size="72" text-anchor="middle" font-style="italic">V</text>
<text transform="translate(107.1,2022) rotate(-90) scale(1,1)" font-size="48" text-anchor="middle" >ph</text>
<text transform="translate(87.5,1963.1) rotate(-90) scale(1,1)" font-size="70" text-anchor="middle" >(</text>
<text transform="translate(87.5,1930.9) rotate(-90) scale(1.15,1)" font-size="70" text-anchor="middle" font-family='"Liberation Serif", serif'>μ</text>
<text transform="translate(87.5,1888.1) rotate(-90) scale(0.9,1)" font-size="72" text-anchor="middle" >V</text>
<text transform="translate(87.5,1853.5) rotate(-90) scale(1,1)" font-size="70" text-anchor="middle" >)</text>
</g>
<text transform="translate(70.86,146) scale(0.9908,1)" font-size="113" >a</text>
<text transform="translate(71.84,889.5) scale(1.0655,1)" font-size="112" >b</text>
<text transform="translate(70.48,1655) scale(1.1257,1)" font-size="113" >c</text>
<text transform="translate(1986.64,290) scale(1.0305,1)" font-size="113" fill="#1a1a1a" >d</text>
<text x="251.3" y="2351.5" font-size="69" text-anchor="middle">0</text>
<text x="647" y="2352" font-size="68" text-anchor="middle" textLength="93" lengthAdjust="spacingAndGlyphs"><tspan font-family='"Liberation Serif", serif' font-size="75">π</tspan>/2</text>
<text x="1044.8" y="2352" font-size="68" text-anchor="middle" textLength="38" lengthAdjust="spacingAndGlyphs"><tspan font-family='"Liberation Serif", serif' font-size="75">π</tspan></text>
<text x="1440.5" y="2352" font-size="68" text-anchor="middle" textLength="134" lengthAdjust="spacingAndGlyphs">3<tspan font-family='"Liberation Serif", serif' font-size="75">π</tspan>/2</text>
<text x="1838" y="2352" font-size="68" text-anchor="middle" textLength="77" lengthAdjust="spacingAndGlyphs">2<tspan font-family='"Liberation Serif", serif' font-size="75">π</tspan></text>
<text x="1043.5" y="2453.8" font-size="66.5" text-anchor="middle" textLength="343" lengthAdjust="spacingAndGlyphs">Angle (rad)</text>
<use href="#rot" transform="translate(446.7,794.4) scale(1,1)" color="#fbb114"/>
<use href="#rot" transform="translate(848.0,794.4) scale(-1,1)" color="#2aa0f5"/>
<use href="#rot" transform="translate(1241.3,794.4) scale(1,1)" color="#fbb114"/>
<use href="#rot" transform="translate(1642.7,794.4) scale(-1,1)" color="#2aa0f5"/>
<use href="#rot" transform="translate(446.7,1576.0) scale(1,1)" color="#fbb114"/>
<use href="#rot" transform="translate(848.0,1576.0) scale(-1,1)" color="#2aa0f5"/>
<use href="#rot" transform="translate(1241.3,1576.0) scale(1,1)" color="#fbb114"/>
<use href="#rot" transform="translate(1642.7,1576.0) scale(-1,1)" color="#2aa0f5"/>
<g id="panel-d">
<rect x="2471" y="232.3" width="818" height="1775.9" fill="#faf3c9"/>
<circle cx="2486.6" cy="373.6" r="27.7" fill="url(#gB)"/><circle cx="2498" cy="367.2" r="8.3" fill="url(#gH)"/>
<circle cx="2799.3" cy="758.5" r="27.7" fill="url(#gB)"/><circle cx="2810.7" cy="752.1" r="8.3" fill="url(#gH)"/>
<circle cx="3121.4" cy="647.1" r="27.7" fill="url(#gB)"/><circle cx="3132.8" cy="640.7" r="8.3" fill="url(#gH)"/>
<circle cx="2377.5" cy="1323.2" r="27.7" fill="url(#gG)"/><circle cx="2388.9" cy="1316.8" r="8.3" fill="url(#gH)"/>
<circle cx="2458.9" cy="1296.4" r="27.7" fill="url(#gR)"/><circle cx="2470.3" cy="1290" r="8.3" fill="url(#gH)"/>
<circle cx="2831" cy="1310" r="27.7" fill="url(#gO)"/><circle cx="2842.4" cy="1303.6" r="8.3" fill="url(#gH)"/>
<circle cx="2745.6" cy="1621.8" r="27.7" fill="url(#gR)"/><circle cx="2757" cy="1615.4" r="8.3" fill="url(#gH)"/>
<circle cx="2799.9" cy="1708.9" r="27.7" fill="url(#gR)"/><circle cx="2811.3" cy="1702.5" r="8.3" fill="url(#gH)"/>
<circle cx="2486.8" cy="1866" r="27.7" fill="url(#gR)"/><circle cx="2498.2" cy="1859.6" r="8.3" fill="url(#gH)"/>
<circle cx="2398.3" cy="1958.6" r="27.7" fill="url(#gG)"/><circle cx="2409.7" cy="1952.2" r="8.3" fill="url(#gH)"/>
<circle cx="2459.9" cy="1958.4" r="27.7" fill="url(#gR)"/><circle cx="2471.3" cy="1952" r="8.3" fill="url(#gH)"/>
<circle cx="2867.8" cy="1957.1" r="27.7" fill="url(#gG)"/><circle cx="2879.2" cy="1950.7" r="8.3" fill="url(#gH)"/>
<circle cx="3086.8" cy="1359.7" r="27.7" fill="url(#gG)"/><circle cx="3098.2" cy="1353.3" r="8.3" fill="url(#gH)"/>
<circle cx="3209" cy="1394.7" r="27.7" fill="url(#gG)"/><circle cx="3220.4" cy="1388.3" r="8.3" fill="url(#gH)"/>
<circle cx="3584.7" cy="1478.6" r="27.7" fill="url(#gT)"/><circle cx="3596.1" cy="1472.2" r="8.3" fill="url(#gH)"/>
<circle cx="3508.3" cy="1526.1" r="27.7" fill="url(#gP)"/><circle cx="3519.7" cy="1519.7" r="8.3" fill="url(#gH)"/>
<circle cx="3584.7" cy="1571.5" r="27.7" fill="url(#gT)"/><circle cx="3596.1" cy="1565.1" r="8.3" fill="url(#gH)"/>
<circle cx="3535.8" cy="1656.3" r="27.7" fill="url(#gP)"/><circle cx="3547.2" cy="1649.9" r="8.3" fill="url(#gH)"/>
<text transform="translate(2375.22,1422.7) scale(1.1037,1)" font-size="68" fill="#3aaa35" >9</text>
<text transform="translate(2480.34,1249.5) scale(1.0502,1)" font-size="68" fill="#cf2e2b" >13</text>
<text transform="translate(2725.23,1378) scale(0.9624,1)" font-size="68" fill="#ee7f2d" >21</text>
<text transform="translate(2626.69,1599.5) scale(1.0653,1)" font-size="68" fill="#cf2e2b" >45</text>
<text transform="translate(2840.26,1754.8) scale(1.0803,1)" font-size="68" fill="#cf2e2b" >46</text>
<text transform="translate(2506.98,1803) scale(1.0824,1)" font-size="68" fill="#cf2e2b" >12</text>
<text transform="translate(2351.78,1907.3) scale(1.0691,1)" font-size="68" fill="#3aaa35" >44</text>
<text transform="translate(2496.8,1970.2) scale(0.9809,1)" font-size="68" fill="#cf2e2b" >11</text>
<text transform="translate(2889.22,1922) scale(1.0553,1)" font-size="68" fill="#3aaa35" >10</text>
<text transform="translate(3030.39,1476.3) scale(1.0405,1)" font-size="68" fill="#3aaa35" >15</text>
<text transform="translate(3187.62,1497.8) scale(1.0345,1)" font-size="68" fill="#3aaa35" >14</text>
<text transform="translate(3541.91,1413.1) scale(1.0554,1)" font-size="68" fill="#6cc5c9" >48</text>
<text transform="translate(3384.63,1503.1) scale(1.0914,1)" font-size="68" fill="#9f8fc9" >32</text>
<text transform="translate(3580.39,1654.9) scale(1.0656,1)" font-size="68" fill="#6cc5c9" >47</text>
<text transform="translate(3420.68,1727) scale(0.9631,1)" font-size="68" fill="#9f8fc9" >31</text>
<path d="M2471.2,232.3v24.7M2471.2,2008.2v-24.2M3015.9,232.3v24.7M3015.9,2008.2v-24.2M3560.6,232.3v24.7M3560.6,2008.2v-24.2M2335.6,389.9h25.2M3695.9,389.9h-25.2M2335.6,912.7h16.7M3695.9,912.7h-16.7M2335.6,755.3h16.7M3695.9,755.3h-16.7M2335.6,663.3h16.7M3695.9,663.3h-16.7M2335.6,597.9h16.7M3695.9,597.9h-16.7M2335.6,547.3h16.7M3695.9,547.3h-16.7M2335.6,505.9h16.7M3695.9,505.9h-16.7M2335.6,470.9h16.7M3695.9,470.9h-16.7M2335.6,440.6h16.7M3695.9,440.6h-16.7M2335.6,413.8h16.7M3695.9,413.8h-16.7M2335.6,1435.5h25.2M3695.9,1435.5h-25.2M2335.6,1278.1h16.7M3695.9,1278.1h-16.7M2335.6,1186.1h16.7M3695.9,1186.1h-16.7M2335.6,1120.7h16.7M3695.9,1120.7h-16.7M2335.6,1070.1h16.7M3695.9,1070.1h-16.7M2335.6,1028.7h16.7M3695.9,1028.7h-16.7M2335.6,993.7h16.7M3695.9,993.7h-16.7M2335.6,963.4h16.7M3695.9,963.4h-16.7M2335.6,936.6h16.7M3695.9,936.6h-16.7M2335.6,1958.3h16.7M3695.9,1958.3h-16.7M2335.6,1800.9h16.7M3695.9,1800.9h-16.7M2335.6,1708.9h16.7M3695.9,1708.9h-16.7M2335.6,1643.5h16.7M3695.9,1643.5h-16.7M2335.6,1592.9h16.7M3695.9,1592.9h-16.7M2335.6,1551.5h16.7M3695.9,1551.5h-16.7M2335.6,1516.5h16.7M3695.9,1516.5h-16.7M2335.6,1486.2h16.7M3695.9,1486.2h-16.7M2335.6,1459.4h16.7M3695.9,1459.4h-16.7M2335.6,1982.2h16.7M3695.9,1982.2h-16.7" stroke="#1c1a1a" stroke-width="14.6" fill="none"/>
<rect x="2335.6" y="232.3" width="1360.3" height="1775.9" fill="none" stroke="#1c1a1a" stroke-width="15.4"/>
<circle cx="3377.7" cy="389.2" r="35.2" fill="url(#gG)"/><circle cx="3392.1" cy="381.1" r="10.6" fill="url(#gH)"/>
<text transform="translate(3452.02,422.8) scale(0.9826,1)" font-size="103.5" fill="#1c1a1a" >OS</text>
<circle cx="3377.7" cy="504" r="35.2" fill="url(#gR)"/><circle cx="3392.1" cy="495.9" r="10.6" fill="url(#gH)"/>
<text transform="translate(3452.19,545.2) scale(0.9793,1)" font-size="103.5" fill="#1c1a1a" >HP</text>
<circle cx="3377.7" cy="624.8" r="35.2" fill="url(#gP)"/><circle cx="3392.1" cy="616.7" r="10.6" fill="url(#gH)"/>
<text transform="translate(3452.43,666.3) scale(0.9804,1)" font-size="103.5" fill="#1c1a1a" >CS</text>
<circle cx="3377.7" cy="749.7" r="35.2" fill="url(#gT)"/><circle cx="3392.1" cy="741.6" r="10.6" fill="url(#gH)"/>
<text transform="translate(3452.19,788.6) scale(0.9793,1)" font-size="103.5" fill="#1c1a1a" >NP</text>
<circle cx="3377.7" cy="876" r="35.2" fill="url(#gO)"/><circle cx="3392.1" cy="867.9" r="10.6" fill="url(#gH)"/>
<text transform="translate(3452.08,908.2) scale(1.0709,1)" font-size="103.5" fill="#1c1a1a" >TI</text>
<text transform="translate(2718.68,413.2) scale(0.9685,1)" font-size="104.5" fill="#1c1a1a" >This Work</text>
<text transform="translate(2607.5,1094.2) scale(0.9687,1)" font-size="104" fill="#ee7e2c" >Visible band</text>
<line x1="2705.5" y1="373.9" x2="2577.2" y2="373.9" stroke="#1c1a1a" stroke-width="16"/>
<path d="M2546.2,373.9L2587.2,356.9L2578.2,373.9L2587.2,390.9Z" fill="#1c1a1a"/>
<line x1="2797.5" y1="450" x2="2797.5" y2="691" stroke="#1c1a1a" stroke-width="16"/>
<path d="M2797.5,722L2780.5,681L2797.5,690L2814.5,681Z" fill="#1c1a1a"/>
<line x1="2979.6" y1="450.7" x2="3072.1" y2="590.9" stroke="#1c1a1a" stroke-width="16"/>
<path d="M3089.2,616.8L3052.4,591.9L3071.6,590.1L3080.8,573.2Z" fill="#1c1a1a"/>
<line x1="3448" y1="1145.7" x2="3461" y2="1140" stroke="#1c1a1a" stroke-width="2.5"/>
<text transform="translate(2137.19,416.2) scale(0.9753,1)" font-size="101.3" fill="#1c1a1a" >10</text>
<text transform="translate(2245.34,373.7) scale(1.0670,1)" font-size="72.3" fill="#1c1a1a" >2</text>
<text transform="translate(2137.19,940.9) scale(0.9753,1)" font-size="101.3" fill="#1c1a1a" >10</text>
<text transform="translate(2250.44,898) scale(0.6015,1)" font-size="72.3" fill="#1c1a1a" >1</text>
<text transform="translate(2137.19,1468.1) scale(0.9753,1)" font-size="101.3" fill="#1c1a1a" >10</text>
<text transform="translate(2246.24,1424.8) scale(1.0221,1)" font-size="72.3" fill="#1c1a1a" >0</text>
<text transform="translate(2097.1,1989.1) scale(0.9743,1)" font-size="101.3" fill="#1c1a1a" >10</text>
<rect x="2206.5" y="1923.3" width="40.2" height="5.6" fill="#1c1a1a"/>
<text transform="translate(2250.44,1946.1) scale(0.6015,1)" font-size="72.3" fill="#1c1a1a" >1</text>
<text transform="translate(2386.65,2132.3) scale(0.9802,1)" font-size="104" fill="#1c1a1a" >400</text>
<text transform="translate(2928.78,2132.3) scale(0.9841,1)" font-size="104" fill="#1c1a1a" >600</text>
<text transform="translate(3472.09,2132.3) scale(0.9847,1)" font-size="104" fill="#1c1a1a" >800</text>
<text transform="translate(2634.89,2281.5) scale(0.9669,1)" font-size="104.5" fill="#1c1a1a" >Wavelength (nm)</text>
<text transform="translate(2008.7,1548.07) rotate(-90) scale(0.9607,1)" font-size="105" fill="#1c1a1a" >Discrimination ratio</text>
</g>
</svg>
</body></html>
